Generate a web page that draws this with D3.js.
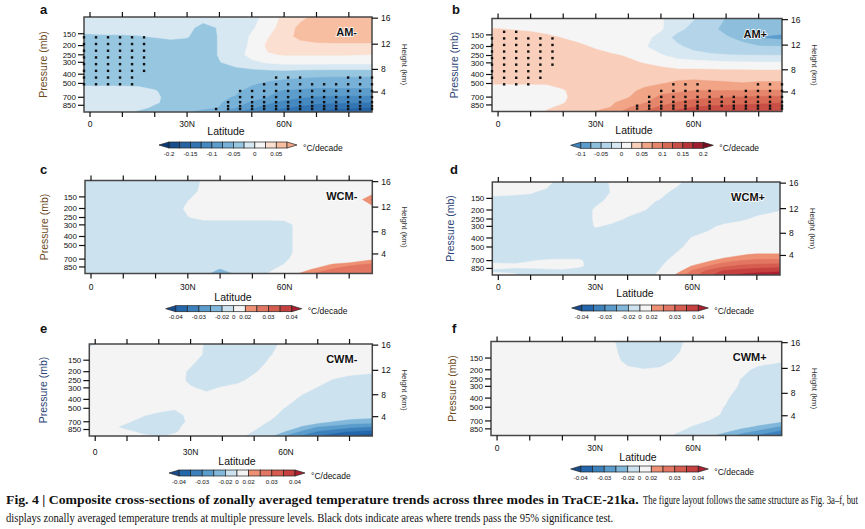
<!DOCTYPE html>
<html>
<head>
<meta charset="utf-8">
<script src="https://cdn.jsdelivr.net/npm/d3@7"></script>
<style>
  body { margin: 0; background: #fff; }
  text { font-family: "Liberation Sans", Arial, sans-serif; fill: #111; }
  .cap { font-family: "Liberation Serif", "DejaVu Serif", serif; }
</style>
</head>
<body>
<svg id="fig" width="865" height="529"></svg>
<script>
// grid the fields are given on (rows = pressure levels, top to bottom)
const gridLats = [-1.86, 5, 10, 15, 20, 25, 30, 35, 40, 45, 50, 55, 60, 65, 70, 75, 80, 87.16];
const gridLevels = [100, 130, 160, 200, 250, 300, 400, 500, 600, 700, 800, 900, 1000];

// temperature trends, degC/decade
const amMinus = [
  [-0.013,-0.013,-0.013,-0.013,-0.013,-0.013,-0.013,-0.015,-0.015,-0.013,-0.005,0.005,0.033,0.045,0.055,0.06,0.06,0.06],
  [-0.013,-0.013,-0.013,-0.015,-0.015,-0.015,-0.018,-0.033,-0.023,-0.015,-0.003,0.013,0.038,0.055,0.063,0.065,0.065,0.065],
  [-0.03,-0.028,-0.028,-0.026,-0.023,-0.02,-0.023,-0.038,-0.023,-0.013,0.003,0.023,0.043,0.055,0.06,0.063,0.063,0.063],
  [-0.038,-0.038,-0.038,-0.038,-0.038,-0.035,-0.035,-0.038,-0.023,-0.013,0.005,0.03,0.038,0.043,0.045,0.045,0.045,0.045],
  [-0.038,-0.038,-0.038,-0.038,-0.038,-0.038,-0.038,-0.038,-0.023,-0.01,0.008,0.023,0.026,0.026,0.026,0.026,0.026,0.024],
  [-0.038,-0.038,-0.038,-0.038,-0.038,-0.038,-0.038,-0.038,-0.026,-0.015,-0.005,0.003,0.008,0.008,0.008,0.008,0.008,0.008],
  [-0.038,-0.038,-0.038,-0.038,-0.038,-0.038,-0.038,-0.038,-0.038,-0.04,-0.04,-0.04,-0.04,-0.043,-0.044,-0.045,-0.045,-0.045],
  [-0.03,-0.03,-0.03,-0.03,-0.035,-0.04,-0.043,-0.043,-0.043,-0.043,-0.048,-0.053,-0.058,-0.06,-0.063,-0.063,-0.063,-0.063],
  [-0.015,-0.015,-0.015,-0.018,-0.023,-0.035,-0.04,-0.043,-0.045,-0.048,-0.055,-0.068,-0.078,-0.08,-0.083,-0.083,-0.083,-0.083],
  [-0.015,-0.015,-0.015,-0.015,-0.02,-0.033,-0.04,-0.045,-0.048,-0.051,-0.063,-0.076,-0.088,-0.098,-0.103,-0.105,-0.105,-0.105],
  [-0.015,-0.015,-0.015,-0.018,-0.023,-0.03,-0.038,-0.045,-0.048,-0.063,-0.08,-0.095,-0.11,-0.115,-0.12,-0.123,-0.124,-0.126],
  [-0.015,-0.015,-0.015,-0.02,-0.028,-0.038,-0.045,-0.045,-0.051,-0.074,-0.095,-0.115,-0.123,-0.13,-0.14,-0.145,-0.148,-0.151],
  [-0.015,-0.015,-0.018,-0.028,-0.035,-0.04,-0.048,-0.058,-0.078,-0.101,-0.115,-0.128,-0.138,-0.148,-0.153,-0.158,-0.16,-0.163]
];
const amPlus = [
  [0.013,0.013,0.013,0.013,0.013,0.013,0.013,0.013,0.01,0.008,0.003,-0.015,-0.023,-0.038,-0.051,-0.058,-0.06,-0.06],
  [0.026,0.024,0.023,0.02,0.018,0.015,0.013,0.01,0.008,0.005,0.003,-0.018,-0.033,-0.045,-0.055,-0.06,-0.063,-0.063],
  [0.035,0.033,0.03,0.028,0.0245,0.02,0.015,0.013,0.008,0.008,-0.01,-0.033,-0.04,-0.043,-0.048,-0.055,-0.076,-0.083],
  [0.038,0.038,0.035,0.033,0.03,0.028,0.023,0.015,0.01,0.003,-0.015,-0.02,-0.033,-0.04,-0.043,-0.045,-0.048,-0.049],
  [0.038,0.038,0.038,0.035,0.035,0.033,0.03,0.028,0.023,0.013,0.003,-0.008,-0.015,-0.02,-0.023,-0.024,-0.024,-0.024],
  [0.04,0.04,0.04,0.038,0.038,0.038,0.035,0.033,0.029,0.024,0.018,0.01,0.009,0.008,0.005,0.004,0.003,0.003],
  [0.04,0.04,0.04,0.04,0.04,0.04,0.04,0.04,0.04,0.04,0.039,0.039,0.039,0.039,0.039,0.039,0.039,0.039],
  [0.026,0.026,0.026,0.026,0.028,0.033,0.038,0.04,0.043,0.045,0.049,0.055,0.058,0.055,0.053,0.051,0.053,0.053],
  [0.015,0.015,0.015,0.018,0.024,0.03,0.035,0.04,0.045,0.055,0.068,0.07,0.076,0.076,0.076,0.076,0.078,0.078],
  [0.015,0.015,0.015,0.015,0.023,0.03,0.035,0.043,0.049,0.063,0.08,0.088,0.095,0.096,0.099,0.101,0.103,0.104],
  [0.015,0.015,0.015,0.018,0.024,0.033,0.04,0.048,0.058,0.073,0.088,0.101,0.108,0.113,0.115,0.118,0.12,0.124],
  [0.015,0.015,0.018,0.023,0.028,0.035,0.043,0.051,0.073,0.09,0.105,0.118,0.126,0.13,0.133,0.133,0.135,0.138],
  [0.015,0.015,0.02,0.026,0.033,0.04,0.051,0.065,0.083,0.101,0.118,0.13,0.138,0.143,0.145,0.145,0.148,0.151]
];
const wcmMinus = [
  [-0.01,-0.01,-0.01,-0.01,-0.01,-0.01,-0.01,0.003,0.008,0.008,0.008,0.008,0.008,0.008,0.008,0.008,0.008,0.008],
  [-0.01,-0.01,-0.01,-0.01,-0.01,-0.01,-0.01,0.006,0.008,0.008,0.008,0.008,0.008,0.008,0.008,0.008,0.008,0.016],
  [-0.01,-0.01,-0.01,-0.01,-0.01,-0.01,-0.001,0.008,0.008,0.008,0.008,0.008,0.008,0.008,0.008,0.008,0.012,0.026],
  [-0.01,-0.01,-0.01,-0.01,-0.01,-0.01,0.004,0.008,0.008,0.008,0.008,0.008,0.008,0.008,0.008,0.008,0.008,0.017],
  [-0.01,-0.01,-0.01,-0.01,-0.01,-0.01,-0.001,0.006,0.006,0.006,0.006,0.006,0.006,0.008,0.008,0.008,0.008,0.008],
  [-0.01,-0.01,-0.01,-0.01,-0.01,-0.01,-0.01,-0.01,-0.01,-0.01,-0.01,-0.01,-0.008,0.008,0.008,0.008,0.008,0.008],
  [-0.01,-0.01,-0.01,-0.01,-0.01,-0.01,-0.01,-0.01,-0.01,-0.01,-0.01,-0.01,-0.008,0.008,0.008,0.008,0.008,0.008],
  [-0.01,-0.01,-0.01,-0.01,-0.01,-0.01,-0.01,-0.01,-0.01,-0.01,-0.01,-0.01,-0.008,0.008,0.008,0.008,0.008,0.008],
  [-0.01,-0.01,-0.01,-0.01,-0.01,-0.01,-0.01,-0.01,-0.01,-0.01,-0.01,-0.01,-0.008,0.008,0.008,0.008,0.008,0.008],
  [-0.01,-0.01,-0.01,-0.01,-0.01,-0.01,-0.01,-0.01,-0.01,-0.01,-0.01,-0.01,-0.003,0.008,0.01,0.01,0.012,0.019],
  [-0.01,-0.01,-0.01,-0.01,-0.01,-0.01,-0.01,-0.01,-0.012,-0.01,-0.01,-0.01,0.001,0.009,0.015,0.021,0.024,0.026],
  [-0.01,-0.01,-0.01,-0.01,-0.01,-0.01,-0.01,-0.012,-0.021,-0.012,-0.01,-0.004,0.007,0.016,0.022,0.0255,0.027,0.028],
  [-0.01,-0.01,-0.01,-0.01,-0.01,-0.01,-0.01,-0.018,-0.024,-0.019,-0.01,0.001,0.01,0.021,0.026,0.028,0.029,0.03]
];
const wcmPlus = [
  [0.006,0.008,0.008,0.006,-0.01,-0.01,-0.01,0.002,0.008,0.008,0.008,0.004,-0.006,-0.01,-0.01,-0.01,-0.01,-0.01],
  [0.003,0.002,0.001,-0.004,-0.01,-0.01,-0.01,0.001,0.008,0.008,0.004,-0.004,-0.01,-0.01,-0.01,-0.01,-0.01,-0.01],
  [-0.004,-0.005,-0.007,-0.01,-0.01,-0.01,-0.004,0.004,0.006,0.003,-0.001,-0.01,-0.01,-0.01,-0.01,-0.01,-0.01,-0.01],
  [-0.01,-0.01,-0.01,-0.01,-0.01,-0.01,0.002,0.005,0.003,0.001,-0.008,-0.01,-0.01,-0.01,-0.01,-0.01,-0.006,-0.001],
  [-0.01,-0.01,-0.01,-0.01,-0.01,-0.01,0.002,0.003,-0.001,-0.01,-0.01,-0.01,-0.01,-0.01,-0.008,-0.003,0.003,0.007],
  [-0.01,-0.01,-0.01,-0.01,-0.01,-0.01,0.001,-0.002,-0.01,-0.01,-0.01,-0.01,-0.01,-0.004,0.004,0.007,0.008,0.008],
  [-0.01,-0.01,-0.01,-0.01,-0.01,-0.01,-0.01,-0.01,-0.01,-0.01,-0.01,-0.008,0.001,0.006,0.008,0.008,0.008,0.008],
  [-0.01,-0.01,-0.01,-0.01,-0.01,-0.01,-0.01,-0.01,-0.01,-0.01,-0.01,-0.004,0.005,0.008,0.008,0.008,0.008,0.008],
  [-0.01,-0.01,-0.01,-0.01,-0.01,-0.01,-0.01,-0.01,-0.01,-0.01,-0.01,0.001,0.008,0.012,0.016,0.019,0.021,0.021],
  [-0.003,-0.004,-0.001,0.002,0.003,0.003,-0.01,-0.01,-0.01,-0.01,-0.005,0.006,0.012,0.019,0.023,0.025,0.026,0.026],
  [0.004,0.003,0.005,0.006,0.006,0.004,-0.01,-0.01,-0.01,-0.01,-0.002,0.012,0.0205,0.025,0.029,0.031,0.032,0.033],
  [-0.002,-0.004,-0.006,-0.004,-0.003,-0.01,-0.01,-0.01,-0.01,-0.01,0.001,0.017,0.0255,0.031,0.0355,0.037,0.038,0.039],
  [0.005,0.002,-0.008,-0.01,-0.01,-0.01,-0.01,-0.01,-0.01,-0.01,0.004,0.021,0.028,0.034,0.038,0.041,0.042,0.043]
];
const cwmMinus = [
  [-0.003,0.004,0.008,0.008,0.008,0.008,0.008,-0.002,-0.01,-0.01,-0.01,-0.006,0.006,0.008,0.008,0.008,0.008,0.008],
  [0.008,0.008,0.008,0.008,0.008,0.008,0.008,-0.003,-0.01,-0.01,-0.01,-0.001,0.006,0.008,0.008,0.008,0.008,0.008],
  [0.008,0.008,0.008,0.008,0.008,0.008,0.003,-0.008,-0.01,-0.01,-0.008,0.003,0.008,0.008,0.008,0.008,0.008,0.008],
  [0.008,0.008,0.008,0.008,0.008,0.008,-0.003,-0.01,-0.01,-0.01,-0.002,0.008,0.008,0.008,0.008,0.008,0.006,0.002],
  [0.008,0.008,0.008,0.008,0.008,0.008,-0.004,-0.01,-0.01,-0.004,0.006,0.008,0.008,0.008,0.006,-0.002,-0.008,-0.01],
  [0.008,0.008,0.008,0.008,0.008,0.008,0.002,-0.004,0.002,0.006,0.008,0.008,0.008,0.006,-0.001,-0.008,-0.01,-0.01],
  [0.008,0.008,0.008,0.008,0.008,0.008,0.008,0.008,0.008,0.008,0.008,0.008,0.006,-0.004,-0.01,-0.01,-0.01,-0.01],
  [0.008,0.008,0.008,0.008,0.007,0.002,0.008,0.008,0.008,0.008,0.008,0.006,-0.001,-0.01,-0.01,-0.01,-0.01,-0.01],
  [0.008,0.008,0.008,0.001,-0.006,-0.008,0.006,0.008,0.008,0.008,0.008,0.004,-0.006,-0.012,-0.014,-0.015,-0.017,-0.018],
  [0.008,0.008,0.002,-0.006,-0.01,-0.008,0.004,0.008,0.008,0.008,0.006,-0.001,-0.011,-0.016,-0.018,-0.0205,-0.022,-0.023],
  [0.008,0.004,-0.005,-0.01,-0.01,-0.004,0.006,0.008,0.008,0.008,0.003,-0.006,-0.015,-0.021,-0.0255,-0.027,-0.029,-0.0305],
  [0.008,0.008,0.004,-0.004,-0.006,-0.002,0.007,0.008,0.008,0.007,-0.001,-0.013,-0.021,-0.026,-0.0305,-0.033,-0.0355,-0.037],
  [0.008,0.008,0.008,0.003,-0.002,0.003,0.008,0.008,0.008,0.006,-0.008,-0.019,-0.026,-0.031,-0.0355,-0.038,-0.041,-0.043]
];
const cwmPlus = [
  [0.008,0.008,0.008,0.008,0.008,0.008,0.008,0.003,-0.01,-0.01,-0.01,-0.006,0.008,0.008,0.008,0.008,0.008,0.008],
  [0.008,0.008,0.008,0.008,0.008,0.008,0.008,0.005,-0.008,-0.01,-0.01,-0.002,0.008,0.008,0.008,0.008,0.008,0.008],
  [0.008,0.008,0.008,0.008,0.008,0.008,0.008,0.008,-0.006,-0.01,-0.008,0.003,0.008,0.008,0.008,0.008,0.008,0.002],
  [0.008,0.008,0.008,0.008,0.008,0.008,0.008,0.008,0.004,0.001,0.003,0.008,0.008,0.008,0.008,0.006,-0.006,-0.01],
  [0.008,0.008,0.008,0.008,0.008,0.008,0.008,0.008,0.008,0.008,0.008,0.008,0.008,0.008,0.008,-0.001,-0.01,-0.01],
  [0.008,0.008,0.008,0.008,0.008,0.008,0.008,0.008,0.008,0.008,0.008,0.008,0.008,0.008,0.008,-0.003,-0.01,-0.01],
  [0.008,0.008,0.008,0.008,0.008,0.008,0.008,0.008,0.008,0.008,0.008,0.008,0.008,0.008,0.002,-0.008,-0.01,-0.01],
  [0.008,0.008,0.008,0.008,0.008,0.008,0.008,0.008,0.008,0.008,0.008,0.008,0.008,0.006,-0.001,-0.006,-0.01,-0.01],
  [0.008,0.008,0.008,0.008,0.008,0.008,0.008,0.008,0.008,0.008,0.008,0.008,0.008,0.007,-0.004,-0.008,-0.01,-0.012],
  [0.008,0.008,0.008,0.008,0.008,0.008,0.008,0.008,0.008,0.008,0.008,0.008,0.006,-0.001,-0.009,-0.012,-0.016,-0.019],
  [0.008,0.008,0.008,0.008,0.008,0.008,0.008,0.008,0.008,0.008,0.008,0.007,-0.001,-0.009,-0.014,-0.018,-0.021,-0.0255],
  [0.008,0.008,0.008,0.008,0.008,0.008,0.008,0.008,0.008,0.008,0.008,0.002,-0.006,-0.014,-0.019,-0.023,-0.026,-0.031],
  [0.008,0.008,0.008,0.008,0.008,0.008,0.008,0.008,0.008,0.008,0.008,-0.003,-0.01,-0.019,-0.023,-0.027,-0.031,-0.037]
];

// contour levels, colours (one more colour than levels) and colour bar labels
const levelsAMminus = [-0.2, -0.175, -0.15, -0.125, -0.1, -0.075, -0.05, -0.025, 0, 0.025, 0.05, 0.075];
const colorsAMminus = ['#0c3a76','#1a4f8d','#2563a3','#3374b2','#4589c0','#5c9dcc','#78b1d8','#97c6e0','#d7e8f2','#f5f5f5','#fbdfd0','#f7bea2','#f3a585'];
const cbLabelsAMminus = [-0.2, -0.15, -0.1, -0.05, 0, 0.05];

const levelsAMplus = [-0.1, -0.075, -0.05, -0.025, 0, 0.025, 0.05, 0.075, 0.1, 0.125, 0.15, 0.175, 0.2];
const colorsAMplus = ['#3f86c1','#5d9dcd','#8dbfdd','#b4d5e9','#d7e8f2','#f5f5f5','#f9cfbb','#f1a486','#e5866c','#d86a55','#c94e45','#b83438','#a11d2e','#780c21'];
const cbLabelsAMplus = [-0.1, -0.05, 0, 0.05, 0.1, 0.15, 0.2];

const levelsSmall = [-0.04, -0.035, -0.03, -0.025, -0.02, 0, 0.02, 0.025, 0.03, 0.035, 0.04];
const colorsSmall = ['#184c8d','#2467ac','#3c81bc','#5a9ccc','#80b7da','#cde2ef','#f4f4f4','#ee9073','#e27662','#d55c4e','#c5403f','#ab1f30'];
const cbLabelsSmall = [-0.04, -0.03, -0.02, 0, 0.02, 0.03, 0.04];

// significance: model grid and runs [lat index, first level index, last level index]
const t31Lats = [-1.86, 1.86, 5.57, 9.28, 12.99, 16.70, 20.41, 24.12, 27.83, 31.54, 35.26, 38.97, 42.68,
  46.39, 50.10, 53.81, 57.52, 61.23, 64.94, 68.65, 72.36, 76.07, 79.78, 83.48, 87.16];
const sigLevels = [139.1, 163.7, 192.5, 226.5, 266.5, 313.5, 368.8, 433.9, 510.5, 600.5, 696.8, 787.7, 867.2, 929.6];
const sigAMminus = [[0,1,8],[1,1,8],[2,1,8],[3,1,8],[4,1,8],[5,1,6],[11,13,13],[12,11,13],[13,9,13],[14,9,13],
  [15,8,13],[16,7,13],[17,7,13],[18,7,13],[19,8,13],[20,8,13],[21,8,13],[22,7,13],[23,7,13],[24,7,13]];
const sigAMplus = [[0,1,7],[1,0,8],[2,0,8],[3,1,8],[4,1,7],[5,1,5],[12,12,13],[13,10,13],[14,9,13],[15,8,13],
  [16,8,13],[17,8,13],[18,9,13],[19,10,12],[20,10,13],[21,9,13],[22,8,13],[23,8,13],[24,8,13]];

// axes
const pressureTicks = [150, 200, 250, 300, 400, 500, 700, 850];
const heightTicks = [4, 8, 12, 16];
const latTicks = [0, 10, 20, 30, 40, 50, 60, 70, 80];
const latLabelVals = [0, 30, 60];
const latLabelText = ['0', '30N', '60N'];

const panels = [
  {key: 'a', mode: 'AM-', field: amMinus, levels: levelsAMminus, colors: colorsAMminus, cbLabels: cbLabelsAMminus, sig: sigAMminus,
   x0: 84, x1: 372, y0: 17, h: 95, latY: 126.5, latTitle: [226, 134.5], pTitleX: 47, cb: {x0: 169, x1: 287, y: 142}, letter: [40, 13.5], tint: '#6b4a1e'},
  {key: 'b', mode: 'AM+', field: amPlus, levels: levelsAMplus, colors: colorsAMplus, cbLabels: cbLabelsAMplus, sig: sigAMplus,
   x0: 492, x1: 782, y0: 18.5, h: 93, latY: 126.5, latTitle: [634, 133.5], pTitleX: 458, cb: {x0: 580.7, x1: 703.3, y: 142.3}, letter: [452, 13.5], tint: '#2a3f73'},
  {key: 'c', mode: 'WCM-', field: wcmMinus, levels: levelsSmall, colors: colorsSmall, cbLabels: cbLabelsSmall, sig: [],
   x0: 85, x1: 372.3, y0: 180.5, h: 93, latY: 289.7, latTitle: [233, 301.2], pTitleX: 48, cb: {x0: 175.7, x1: 291.7, y: 305.7}, letter: [40, 173.5], tint: '#6b4a1e'},
  {key: 'd', mode: 'WCM+', field: wcmPlus, levels: levelsSmall, colors: colorsSmall, cbLabels: cbLabelsSmall, sig: [],
   x0: 492.3, x1: 780, y0: 182, h: 93, latY: 289.7, latTitle: [635, 296.5], pTitleX: 454, cb: {x0: 581.7, x1: 698.3, y: 305}, letter: [450, 173.5], tint: '#2a3f73'},
  {key: 'e', mode: 'CWM-', field: cwmMinus, levels: levelsSmall, colors: colorsSmall, cbLabels: cbLabelsSmall, sig: [],
   x0: 89.3, x1: 372.3, y0: 344, h: 92, latY: 454.7, latTitle: [237, 465.2], pTitleX: 47, cb: {x0: 179, x1: 295, y: 470}, letter: [40, 333], tint: '#2a3f73'},
  {key: 'f', mode: 'CWM+', field: cwmPlus, levels: levelsSmall, colors: colorsSmall, cbLabels: cbLabelsSmall, sig: [],
   x0: 491, x1: 781.7, y0: 341.5, h: 94, latY: 451.3, latTitle: [638, 461.2], pTitleX: 456, cb: {x0: 580.7, x1: 698.3, y: 466}, letter: [452, 333], tint: '#6b4a1e'}
];

// standard atmosphere: height (km) -> pressure (hPa)
function isaPressure(km) {
  if (km <= 11) return 1013.25 * Math.pow(1 - 0.0065 * km * 1000 / 288.15, 5.2559);
  return 226.32 * Math.exp(-(km - 11) * 1000 / 6341.6);
}

const svg = d3.select('#fig');
svg.append('rect').attr('width', 865).attr('height', 529).attr('fill', '#fff');

function drawPanel(p) {
  const g = svg.append('g');
  const y1 = p.y0 + p.h;
  const x = d3.scaleLinear().domain([gridLats[0], gridLats[gridLats.length - 1]]).range([p.x0, p.x1]);
  const y = d3.scaleLog().domain([100, 1000]).range([p.y0, y1]);
  const nx = gridLats.length, ny = gridLevels.length;
  const xs = gridLats.map(x), ys = gridLevels.map(y);

  // contour grid coords -> pixels (value i sits at i + 0.5)
  const lerp = (arr, c) => {
    const t = Math.max(0, Math.min(arr.length - 1, c - 0.5));
    const i = Math.min(Math.floor(t), arr.length - 2);
    const f = t - i;
    return arr[i] + (arr[i + 1] - arr[i]) * f;
  };
  const path = d3.geoPath(d3.geoTransform({
    point(gx, gy) { this.stream.point(lerp(xs, gx), lerp(ys, gy)); }
  }));

  const clipId = 'clip-' + p.key;
  g.append('clipPath').attr('id', clipId)
    .append('rect').attr('x', p.x0).attr('y', p.y0).attr('width', p.x1 - p.x0).attr('height', p.h);

  const field = g.append('g').attr('clip-path', `url(#${clipId})`);
  field.append('rect')
    .attr('x', p.x0).attr('y', p.y0).attr('width', p.x1 - p.x0).attr('height', p.h)
    .attr('fill', p.colors[0]);

  const bands = d3.contours().size([nx, ny]).thresholds(p.levels)(p.field.flat());
  field.selectAll('path.band')
    .data(bands)
    .join('path')
    .attr('class', 'band')
    .attr('d', path)
    .attr('fill-rule', 'evenodd')
    .attr('fill', d => p.colors[p.levels.indexOf(d.value) + 1])
    .attr('stroke', d => p.colors[p.levels.indexOf(d.value) + 1])
    .attr('stroke-width', 0.4);

  // frame
  g.append('rect')
    .attr('x', p.x0).attr('y', p.y0).attr('width', p.x1 - p.x0).attr('height', p.h)
    .attr('fill', 'none').attr('stroke', '#474747').attr('stroke-width', 1.5);

  // significance dots
  const dots = [];
  p.sig.forEach(([li, a, b]) => {
    for (let k = a; k <= b; k++) dots.push([t31Lats[li], sigLevels[k]]);
  });
  g.selectAll('rect.dot')
    .data(dots)
    .join('rect')
    .attr('class', 'dot')
    .attr('x', d => x(d[0]) - 1.2)
    .attr('y', d => y(d[1]) - 1.2)
    .attr('width', 2.4).attr('height', 2.4)
    .attr('fill', '#111');

  // latitude ticks top and bottom
  g.selectAll('line.tt')
    .data(latTicks)
    .join('line')
    .attr('class', 'tt')
    .attr('x1', d => x(d)).attr('x2', d => x(d))
    .attr('y1', p.y0 - 5).attr('y2', p.y0)
    .attr('stroke', '#111').attr('stroke-width', 1.2);
  g.selectAll('line.bt')
    .data(latTicks)
    .join('line')
    .attr('class', 'bt')
    .attr('x1', d => x(d)).attr('x2', d => x(d))
    .attr('y1', y1).attr('y2', y1 + 5)
    .attr('stroke', '#111').attr('stroke-width', 1.2);
  g.selectAll('text.lat')
    .data(latLabelVals)
    .join('text')
    .attr('class', 'lat')
    .attr('x', d => x(d)).attr('y', p.latY)
    .attr('text-anchor', 'middle')
    .attr('font-size', 8.5)
    .text((d, i) => latLabelText[i]);
  g.append('text')
    .attr('x', p.latTitle[0]).attr('y', p.latTitle[1])
    .attr('text-anchor', 'middle')
    .attr('font-size', 10.5)
    .text('Latitude');

  // pressure axis
  g.selectAll('line.pt')
    .data(pressureTicks)
    .join('line')
    .attr('class', 'pt')
    .attr('x1', p.x0 - 6).attr('x2', p.x0)
    .attr('y1', d => y(d)).attr('y2', d => y(d))
    .attr('stroke', '#111').attr('stroke-width', 1.2);
  g.selectAll('text.pl')
    .data(pressureTicks)
    .join('text')
    .attr('class', 'pl')
    .attr('x', p.x0 - 8).attr('y', d => y(d) + 2.8)
    .attr('text-anchor', 'end')
    .attr('font-size', 8)
    .text(d => d);
  g.append('text')
    .attr('transform', `translate(${p.pTitleX},${p.y0 + p.h / 2}) rotate(-90)`)
    .attr('text-anchor', 'middle')
    .attr('font-size', 10.5)
    .style('fill', p.tint)
    .text('Pressure (mb)');

  // height axis
  g.selectAll('line.ht')
    .data(heightTicks)
    .join('line')
    .attr('class', 'ht')
    .attr('x1', p.x1).attr('x2', p.x1 + 6)
    .attr('y1', d => y(isaPressure(d))).attr('y2', d => y(isaPressure(d)))
    .attr('stroke', '#111').attr('stroke-width', 1.2);
  g.selectAll('text.hl')
    .data(heightTicks)
    .join('text')
    .attr('class', 'hl')
    .attr('x', p.x1 + 9).attr('y', d => y(isaPressure(d)) + 3)
    .attr('font-size', 8.5)
    .text(d => d);
  g.append('text')
    .attr('transform', `translate(${p.x1 + 30},${p.y0 + p.h / 2}) rotate(90)`)
    .attr('text-anchor', 'middle')
    .attr('font-size', 8)
    .style('fill', '#333')
    .text('Height (km)');

  // labels
  g.append('text')
    .attr('x', p.letter[0]).attr('y', p.letter[1])
    .attr('font-size', 13).attr('font-weight', 'bold')
    .text(p.key);
  g.append('text')
    .attr('x', p.x1 - 15).attr('y', p.y0 + 19)
    .attr('text-anchor', 'end')
    .attr('font-size', 11).attr('font-weight', 'bold')
    .style('stroke', '#fff').style('stroke-width', 1.5).style('paint-order', 'stroke')
    .text(p.mode);

  // colour bar
  const nb = p.levels.length - 1;
  const bw = (p.cb.x1 - p.cb.x0) / nb;
  const cbH = 6;
  const cb = g.append('g');
  cb.selectAll('rect')
    .data(d3.range(nb))
    .join('rect')
    .attr('x', i => p.cb.x0 + i * bw).attr('y', p.cb.y)
    .attr('width', bw).attr('height', cbH)
    .attr('fill', i => p.colors[i + 1])
    .attr('stroke', '#222').attr('stroke-width', 0.7);
  cb.append('path')
    .attr('d', `M${p.cb.x0},${p.cb.y}L${p.cb.x0 - 10},${p.cb.y + cbH / 2}L${p.cb.x0},${p.cb.y + cbH}Z`)
    .attr('fill', p.colors[0]).attr('stroke', '#222').attr('stroke-width', 0.7);
  cb.append('path')
    .attr('d', `M${p.cb.x1},${p.cb.y}L${p.cb.x1 + 10},${p.cb.y + cbH / 2}L${p.cb.x1},${p.cb.y + cbH}Z`)
    .attr('fill', p.colors[p.colors.length - 1]).attr('stroke', '#222').attr('stroke-width', 0.7);
  cb.selectAll('text.cbl')
    .data(p.cbLabels)
    .join('text')
    .attr('class', 'cbl')
    .attr('x', v => p.cb.x0 + p.levels.indexOf(v) * bw)
    .attr('y', p.cb.y + 13.5)
    .attr('text-anchor', 'middle')
    .attr('font-size', 6.2)
    .text(v => String(v));
  cb.append('text')
    .attr('x', p.cb.x1 + 16).attr('y', p.cb.y + 8.5)
    .attr('font-size', 8.5)
    .text('\u00B0C/decade');
}

panels.forEach(drawPanel);

// caption: condensed serif, squeezed horizontally to the widths in the figure
function captionPiece(str, x, yBase, width, bold) {
  const t = svg.append('text').attr('class', 'cap')
    .attr('font-size', 12)
    .attr('font-weight', bold ? 'bold' : 'normal')
    .text(str);
  const natural = t.node().getComputedTextLength();
  t.attr('transform', `translate(${x},${yBase}) scale(${width / natural},1)`);
}
captionPiece('Fig. 4 | Composite cross-sections of zonally averaged temperature trends across three modes in TraCE-21ka.', 6, 504, 633, true);
captionPiece('The figure layout follows the same structure as Fig. 3a\u2013f, but', 643, 504, 215, false);
captionPiece('displays zonally averaged temperature trends at multiple pressure levels. Black dots indicate areas where trends pass the 95% significance test.', 6, 522, 608, false);
</script>
</body>
</html>
